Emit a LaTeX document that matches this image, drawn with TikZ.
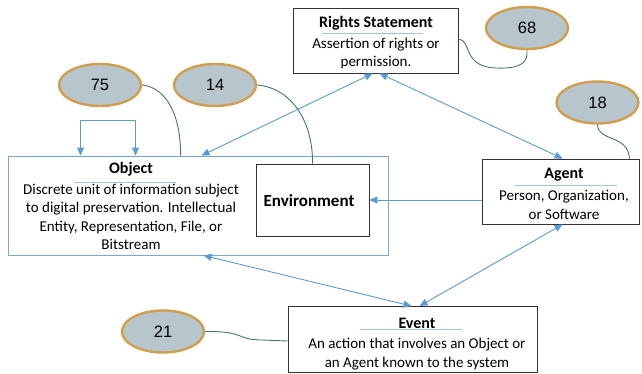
\documentclass[tikz,border=0pt]{standalone}
\usepackage{fontspec}
\setmainfont{Carlito}
\newfontfamily\numfont{Liberation Sans}
\usetikzlibrary{shapes.geometric,arrows.meta}
\definecolor{arrowblue}{HTML}{5B9BD5}
\definecolor{objborder}{HTML}{7EA6D2}
\definecolor{divline}{HTML}{9DC3E6}
\definecolor{ellfill}{HTML}{B7C6CD}
\definecolor{ellborder}{HTML}{D19E4E}
\definecolor{tealline}{HTML}{45736D}
\tikzset{
  boxnode/.style={draw=black!80, line width=0.9pt, rectangle, inner sep=0pt},
  countell/.style={ellipse, draw=ellborder, line width=2.4pt, fill=ellfill,
     minimum width=82pt, minimum height=42pt, inner sep=0pt, font=\numfont\fontsize{16.5}{18}\selectfont},
  bodytext/.style={align=center, font=\fontsize{15}{18.5}\selectfont, inner sep=0pt},
  titletext/.style={font=\bfseries\fontsize{16}{18}\selectfont, inner sep=0pt},
  relarrow/.style={draw=arrowblue, line width=0.9pt, {Triangle[length=8pt,width=7pt]}-{Triangle[length=8pt,width=7pt]}},
  onearrow/.style={draw=arrowblue, line width=0.9pt, -{Triangle[length=8pt,width=7pt]}},
  tealconn/.style={draw=tealline, line width=0.9pt},
  divider/.style={draw=divline, line width=0.8pt}
}
\begin{document}
\begin{tikzpicture}[x=1pt,y=-1pt]
\useasboundingbox (0,0) rectangle (642,373);
% boxes
\node[boxnode, draw=objborder, minimum width=380pt, minimum height=99pt] (obj) at (198,205.5) {};
\node[boxnode, minimum width=113pt, minimum height=72pt] (env) at (312.5,200) {};
\node[boxnode, minimum width=165pt, minimum height=65pt] (rights) at (375.5,40.5) {};
\node[boxnode, minimum width=157pt, minimum height=65pt] (agent) at (560.5,191.5) {};
\node[boxnode, minimum width=249pt, minimum height=66pt] (event) at (412.5,339.5) {};
% texts
\node[titletext] (objt) at (131,169.5) {Object};
\draw[divider] (74,182) -- (176,182);
\node[bodytext, anchor=north] (objb) at (131,183.5) {Discrete unit of information subject\\to digital preservation. Intellectual\\Entity, Representation, File, or\\Bitstream};
\node[titletext, font=\bfseries\fontsize{17}{18}\selectfont] (envt) at (309,201) {Environment};
\node[titletext] (rt) at (376,23) {Rights Statement};
\draw[divider] (322,33) -- (423,33);
\node[bodytext, anchor=north] (rb) at (376,37.5) {Assertion of rights or\\permission.};
\node[titletext] (at) at (564,174.5) {Agent};
\draw[divider] (515,185) -- (617,185);
\node[bodytext, anchor=north] (ab) at (564,190) {Person, Organization,\\or Software};
\node[titletext] (et) at (417,323.5) {Event};
\draw[divider] (360,329) -- (462,329);
\node[bodytext, anchor=north] (eb) at (417,338) {An action that involves an Object or\\an Agent known to the system};
% ellipses
\node[countell] (e75) at (100,85) {75};
\node[countell] (e14) at (215,85) {14};
\node[countell] (e68) at (527,28) {68};
\node[countell] (e18) at (597.5,102.5) {18};
\node[countell] (e21) at (163,331.5) {21};
% relation arrows
\draw[relarrow] ([xshift=194pt]obj.north west) -- ([xshift=80pt]rights.south west);
\draw[relarrow] ([xshift=87pt]rights.south west) -- ([xshift=81pt]agent.north west);
\draw[relarrow] ([xshift=196pt]obj.south west) -- ([xshift=124pt]event.north west);
\draw[relarrow] ([xshift=81pt]agent.south west) -- ([xshift=132pt]event.north west);
\draw[onearrow] (agent.west |- env.east) -- (env.east);
\draw[relarrow] ([xshift=73pt]obj.north west) -- ++(0,-35) -| ([xshift=128pt]obj.north west);
% count connectors
\draw[tealconn] (e75.east) .. controls (168,88) and (181,118) .. ([xshift=173pt]obj.north west);
\draw[tealconn] (e14.east) .. controls (292,88) and (313,122) .. ([xshift=57pt]env.north west);
\draw[tealconn] ([yshift=1.5pt]rights.east) .. controls (472,40) and (462,67) .. (496,68) .. controls (522,69) and (528,62) .. (e68.south);
\draw[tealconn] (e18.south) .. controls (598,142) and (628,134) .. ([xshift=-10pt]agent.north east);
\draw[tealconn] (e21.east) .. controls (246,331) and (236,340) .. (262,340) -- (event.west |- 0,341);
\end{tikzpicture}
\end{document}
